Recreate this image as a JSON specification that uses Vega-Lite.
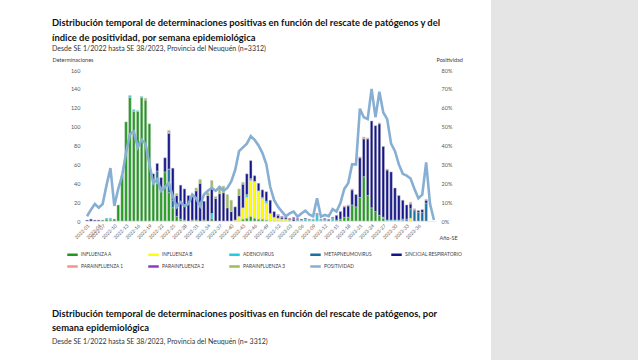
{
  "$schema": "https://vega.github.io/schema/vega-lite/v6.json",
  "padding": {"left": 52, "top": 0, "right": 0, "bottom": 0},
  "background": "white",
  "config": {"font": "Lato", "view": {"stroke": null}},
  "spacing": 28,
  "hconcat": [
    {
      "spacing": 67,
      "vconcat": [
        {
          "width": 351,
          "height": 151,
          "title": {
            "text": ["Distribución temporal de determinaciones positivas en función del rescate de patógenos y del", "índice de positividad, por semana epidemiológica"],
            "subtitle": "Desde SE 1/2022 hasta SE 38/2023, Provincia del Neuquén (n=3312)",
            "anchor": "start", "frame": "group", "dx": -33,
            "fontSize": 9.4, "fontWeight": "bold", "lineHeight": 14.5, "color": "#111111",
            "subtitleFontSize": 7.0, "subtitleColor": "#333333", "subtitlePadding": 2, "offset": 4
          },
          "data": {"values": [
            {"s":"2022-01","SINCICIAL RESPIRATORIO":1,"p":2.5},
            {"s":"2022-02","SINCICIAL RESPIRATORIO":2,"p":6},
            {"s":"2022-03","SINCICIAL RESPIRATORIO":1,"p":9},
            {"s":"2022-04","SINCICIAL RESPIRATORIO":1,"p":7},
            {"s":"2022-05","p":9},
            {"s":"2022-06","p":0.5},
            {"s":"2022-07","INFLUENZA A":1,"p":9},
            {"s":"2022-08","INFLUENZA A":2,"ADENOVIRUS":1,"p":19},
            {"s":"2022-09","INFLUENZA A":1,"ADENOVIRUS":2,"p":28},
            {"s":"2022-10","INFLUENZA A":2,"p":8},
            {"s":"2022-11","INFLUENZA A":17,"p":17},
            {"s":"2022-12","INFLUENZA A":48,"p":24},
            {"s":"2022-13","INFLUENZA A":105,"p":36},
            {"s":"2022-14","INFLUENZA A":131,"ADENOVIRUS":2,"p":46},
            {"s":"2022-15","INFLUENZA A":116,"ADENOVIRUS":2,"p":47.5},
            {"s":"2022-16","INFLUENZA A":116,"ADENOVIRUS":1,"p":39},
            {"s":"2022-17","INFLUENZA A":131,"ADENOVIRUS":1,"p":43},
            {"s":"2022-18","INFLUENZA A":128,"PARAINFLUENZA 3":2,"p":41},
            {"s":"2022-19","INFLUENZA A":103,"p":30},
            {"s":"2022-20","INFLUENZA A":44,"SINCICIAL RESPIRATORIO":6,"p":20},
            {"s":"2022-21","INFLUENZA A":40,"ADENOVIRUS":3,"METAPNEUMOVIRUS":10,"SINCICIAL RESPIRATORIO":8,"p":22},
            {"s":"2022-22","INFLUENZA A":36,"SINCICIAL RESPIRATORIO":10,"p":16},
            {"s":"2022-23","INFLUENZA A":52,"SINCICIAL RESPIRATORIO":15,"p":18},
            {"s":"2022-24","INFLUENZA A":30,"METAPNEUMOVIRUS":25,"SINCICIAL RESPIRATORIO":38,"PARAINFLUENZA 1":1,"PARAINFLUENZA 3":2,"p":20},
            {"s":"2022-25","INFLUENZA A":14,"METAPNEUMOVIRUS":8,"SINCICIAL RESPIRATORIO":34,"p":13},
            {"s":"2022-26","INFLUENZA A":5,"SINCICIAL RESPIRATORIO":22,"PARAINFLUENZA 3":2,"p":7.5},
            {"s":"2022-27","INFLUENZA A":2,"SINCICIAL RESPIRATORIO":36,"p":10},
            {"s":"2022-28","INFLUENZA A":1,"SINCICIAL RESPIRATORIO":33,"p":8},
            {"s":"2022-29","SINCICIAL RESPIRATORIO":27,"p":9},
            {"s":"2022-30","INFLUENZA A":1,"SINCICIAL RESPIRATORIO":26,"PARAINFLUENZA 3":1,"p":14},
            {"s":"2022-31","INFLUENZA A":1,"SINCICIAL RESPIRATORIO":31,"PARAINFLUENZA 3":3,"p":12},
            {"s":"2022-32","SINCICIAL RESPIRATORIO":40,"PARAINFLUENZA 3":4,"p":8},
            {"s":"2022-33","INFLUENZA A":1,"SINCICIAL RESPIRATORIO":20,"p":14},
            {"s":"2022-34","SINCICIAL RESPIRATORIO":27,"PARAINFLUENZA 3":3,"p":16},
            {"s":"2022-35","INFLUENZA A":3,"ADENOVIRUS":5,"SINCICIAL RESPIRATORIO":28,"PARAINFLUENZA 3":7,"p":17.5},
            {"s":"2022-36","SINCICIAL RESPIRATORIO":24,"PARAINFLUENZA 3":2,"p":16},
            {"s":"2022-37","SINCICIAL RESPIRATORIO":29,"PARAINFLUENZA 3":8,"p":18},
            {"s":"2022-38","SINCICIAL RESPIRATORIO":30,"PARAINFLUENZA 3":7,"p":16},
            {"s":"2022-39","SINCICIAL RESPIRATORIO":14,"PARAINFLUENZA 3":14,"p":17.5},
            {"s":"2022-40","SINCICIAL RESPIRATORIO":10,"PARAINFLUENZA 3":12,"p":21},
            {"s":"2022-41","INFLUENZA B":1,"SINCICIAL RESPIRATORIO":14,"p":27},
            {"s":"2022-42","INFLUENZA B":5,"SINCICIAL RESPIRATORIO":22,"PARAINFLUENZA 3":7,"p":37},
            {"s":"2022-43","INFLUENZA A":2,"INFLUENZA B":12,"SINCICIAL RESPIRATORIO":25,"PARAINFLUENZA 3":2,"p":39},
            {"s":"2022-44","INFLUENZA A":3,"INFLUENZA B":22,"ADENOVIRUS":3,"SINCICIAL RESPIRATORIO":22,"p":41},
            {"s":"2022-45","INFLUENZA A":5,"INFLUENZA B":38,"ADENOVIRUS":2,"SINCICIAL RESPIRATORIO":19,"p":45},
            {"s":"2022-46","INFLUENZA A":3,"INFLUENZA B":39,"SINCICIAL RESPIRATORIO":6,"p":43},
            {"s":"2022-47","INFLUENZA A":2,"INFLUENZA B":30,"SINCICIAL RESPIRATORIO":8,"p":40},
            {"s":"2022-48","INFLUENZA A":2,"INFLUENZA B":22,"ADENOVIRUS":1,"SINCICIAL RESPIRATORIO":8,"p":36},
            {"s":"2022-49","INFLUENZA A":1,"INFLUENZA B":18,"ADENOVIRUS":2,"SINCICIAL RESPIRATORIO":10,"p":30},
            {"s":"2022-50","INFLUENZA B":8,"SINCICIAL RESPIRATORIO":14,"p":18},
            {"s":"2022-51","INFLUENZA B":4,"SINCICIAL RESPIRATORIO":6,"p":11},
            {"s":"2022-52","INFLUENZA B":3,"SINCICIAL RESPIRATORIO":3,"PARAINFLUENZA 2":1,"p":7.5},
            {"s":"2023-01","INFLUENZA B":2,"SINCICIAL RESPIRATORIO":2,"PARAINFLUENZA 2":1,"p":5},
            {"s":"2023-02","INFLUENZA B":2,"SINCICIAL RESPIRATORIO":2,"p":2.5},
            {"s":"2023-03","INFLUENZA B":1,"SINCICIAL RESPIRATORIO":1,"PARAINFLUENZA 2":1,"p":4},
            {"s":"2023-04","SINCICIAL RESPIRATORIO":2,"PARAINFLUENZA 2":2,"p":5},
            {"s":"2023-05","ADENOVIRUS":1,"SINCICIAL RESPIRATORIO":1,"PARAINFLUENZA 2":1,"p":2.3},
            {"s":"2023-06","ADENOVIRUS":1,"SINCICIAL RESPIRATORIO":1,"p":4},
            {"s":"2023-07","ADENOVIRUS":2,"SINCICIAL RESPIRATORIO":1,"p":5.5},
            {"s":"2023-08","ADENOVIRUS":1,"PARAINFLUENZA 2":1,"p":3.5},
            {"s":"2023-09","ADENOVIRUS":2,"p":2.5},
            {"s":"2023-10","ADENOVIRUS":7,"SINCICIAL RESPIRATORIO":1,"p":12},
            {"s":"2023-11","ADENOVIRUS":1,"PARAINFLUENZA 2":1,"p":2.3},
            {"s":"2023-12","ADENOVIRUS":1,"SINCICIAL RESPIRATORIO":1,"PARAINFLUENZA 2":1,"p":3.2},
            {"s":"2023-13","SINCICIAL RESPIRATORIO":1,"PARAINFLUENZA 2":1,"p":2.5},
            {"s":"2023-14","ADENOVIRUS":3,"SINCICIAL RESPIRATORIO":1,"p":6.3},
            {"s":"2023-15","INFLUENZA A":1,"SINCICIAL RESPIRATORIO":5,"p":5},
            {"s":"2023-16","INFLUENZA A":2,"SINCICIAL RESPIRATORIO":8,"p":9.5},
            {"s":"2023-17","INFLUENZA A":4,"SINCICIAL RESPIRATORIO":11,"PARAINFLUENZA 1":1,"p":17},
            {"s":"2023-18","INFLUENZA A":4,"SINCICIAL RESPIRATORIO":12,"PARAINFLUENZA 1":1,"p":20},
            {"s":"2023-19","INFLUENZA A":17,"SINCICIAL RESPIRATORIO":16,"PARAINFLUENZA 1":1,"p":30},
            {"s":"2023-20","INFLUENZA A":15,"SINCICIAL RESPIRATORIO":13,"p":30},
            {"s":"2023-21","INFLUENZA A":25,"SINCICIAL RESPIRATORIO":42,"PARAINFLUENZA 1":1,"p":59.5},
            {"s":"2023-22","INFLUENZA A":47,"SINCICIAL RESPIRATORIO":40,"PARAINFLUENZA 1":2,"p":55},
            {"s":"2023-23","INFLUENZA A":27,"SINCICIAL RESPIRATORIO":60,"PARAINFLUENZA 1":1,"p":54},
            {"s":"2023-24","INFLUENZA A":14,"SINCICIAL RESPIRATORIO":92,"p":70},
            {"s":"2023-25","INFLUENZA A":10,"SINCICIAL RESPIRATORIO":91,"p":55},
            {"s":"2023-26","INFLUENZA A":6,"SINCICIAL RESPIRATORIO":97,"PARAINFLUENZA 1":1,"p":68.5},
            {"s":"2023-27","INFLUENZA A":3,"ADENOVIRUS":1,"SINCICIAL RESPIRATORIO":75,"p":57.5},
            {"s":"2023-28","ADENOVIRUS":1,"SINCICIAL RESPIRATORIO":53,"PARAINFLUENZA 1":1,"p":54},
            {"s":"2023-29","ADENOVIRUS":1,"SINCICIAL RESPIRATORIO":51,"p":41},
            {"s":"2023-30","ADENOVIRUS":1,"SINCICIAL RESPIRATORIO":34,"p":37},
            {"s":"2023-31","ADENOVIRUS":1,"SINCICIAL RESPIRATORIO":26,"p":30},
            {"s":"2023-32","ADENOVIRUS":1,"METAPNEUMOVIRUS":1,"SINCICIAL RESPIRATORIO":20,"p":25},
            {"s":"2023-33","METAPNEUMOVIRUS":2,"SINCICIAL RESPIRATORIO":15,"p":24},
            {"s":"2023-34","INFLUENZA B":3,"METAPNEUMOVIRUS":10,"SINCICIAL RESPIRATORIO":5,"PARAINFLUENZA 1":2,"p":22.5},
            {"s":"2023-35","METAPNEUMOVIRUS":11,"SINCICIAL RESPIRATORIO":1,"PARAINFLUENZA 1":1,"p":17},
            {"s":"2023-36","METAPNEUMOVIRUS":9,"SINCICIAL RESPIRATORIO":2,"p":12},
            {"s":"2023-37","METAPNEUMOVIRUS":9,"SINCICIAL RESPIRATORIO":3,"p":14},
            {"s":"2023-38","METAPNEUMOVIRUS":19,"SINCICIAL RESPIRATORIO":3,"PARAINFLUENZA 1":1,"p":31}
          ]},
          "layer": [
            {
              "transform": [
                {"fold": ["INFLUENZA A","INFLUENZA B","ADENOVIRUS","METAPNEUMOVIRUS","SINCICIAL RESPIRATORIO","PARAINFLUENZA 1","PARAINFLUENZA 2","PARAINFLUENZA 3"], "as": ["serie","n"]},
                {"filter": "datum.n > 0"},
                {"calculate": "indexof(['INFLUENZA A','INFLUENZA B','ADENOVIRUS','METAPNEUMOVIRUS','SINCICIAL RESPIRATORIO','PARAINFLUENZA 1','PARAINFLUENZA 2','PARAINFLUENZA 3'], datum.serie)", "as": "ord"}
              ],
              "mark": {"type": "bar", "stroke": "#c8c8c8", "strokeWidth": 0.5},
              "encoding": {
                "x": {"field": "s", "type": "ordinal", "sort": null,
                  "scale": {"paddingInner": 0.35, "paddingOuter": 0.2},
                  "axis": {"title": "Año-SE", "titleX": 354, "titleY": 18, "titleAlign": "left", "titleBaseline": "alphabetic", "titleFontSize": 5.5, "titleFontWeight": "normal", "titleColor": "#404040",
                    "values": ["2022-01","2022-04","2022-07","2022-10","2022-13","2022-16","2022-19","2022-22","2022-25","2022-28","2022-31","2022-34","2022-37","2022-40","2022-43","2022-46","2022-49","2022-52","2023-03","2023-06","2023-09","2023-12","2023-15","2023-18","2023-21","2023-24","2023-27","2023-30","2023-33","2023-36"],
                    "labelAngle": -45, "labelFontSize": 4.8, "labelColor": "#595959", "ticks": false, "domain": true, "domainColor": "#d9d9d9", "domainWidth": 0.5, "labelPadding": 2}},
                "y": {"field": "n", "type": "quantitative", "stack": "zero",
                  "scale": {"domain": [0, 160]},
                  "axis": {"title": "Determinaciones", "titleAngle": 0, "titleX": -33, "titleY": -9, "titleAlign": "left", "titleBaseline": "alphabetic", "titleFontSize": 5.5, "titleFontWeight": "normal", "titleColor": "#404040",
                    "values": [0,20,40,60,80,100,120,140,160], "labelFontSize": 5.5, "labelColor": "#595959", "ticks": false, "domain": false, "grid": false, "labelPadding": 5}},
                "order": {"field": "ord", "type": "quantitative", "sort": "ascending"},
                "color": {"field": "serie", "type": "nominal",
                  "scale": {"domain": ["INFLUENZA A","INFLUENZA B","ADENOVIRUS","METAPNEUMOVIRUS","SINCICIAL RESPIRATORIO","PARAINFLUENZA 1","PARAINFLUENZA 2","PARAINFLUENZA 3","POSITIVIDAD"],
                    "range": ["#1e9b1e","#ffff00","#22cde0","#1b6fa1","#14148c","#f4938d","#8a3cc4","#9cbd57","#86afd3"]},
                  "legend": {"orient": "none", "legendX": -19, "legendY": 178, "direction": "horizontal", "columns": 5, "title": null,
                    "symbolType": "stroke", "symbolSize": 110, "symbolStrokeWidth": 2.5, "labelFontSize": 4.8, "labelColor": "#404040",
                    "columnPadding": 5, "rowPadding": -3, "gridAlign": "all", "labelOffset": 2,
                    "encode": {"symbols": {"update": {"stroke": {"scale": "color", "field": "value"}, "strokeWidth": {"value": 2.5}}}}}}
              }
            },
            {
              "mark": {"type": "line", "strokeWidth": 2.6},
              "encoding": {
                "x": {"field": "s", "type": "ordinal", "sort": null},
                "y": {"field": "p", "type": "quantitative",
                  "scale": {"domain": [0, 80]},
                  "axis": {"orient": "right", "title": "Positividad", "titleAngle": 0, "titleX": 0, "titleY": -9, "titleAlign": "left", "titleBaseline": "alphabetic", "titleFontSize": 5.5, "titleFontWeight": "normal", "titleColor": "#404040",
                    "values": [0,10,20,30,40,50,60,70,80], "labelExpr": "datum.value + '%'", "labelFontSize": 5.5, "labelColor": "#595959", "ticks": false, "domain": false, "grid": false, "labelPadding": 5}},
                "color": {"datum": "POSITIVIDAD"}
              }
            }
          ],
          "resolve": {"scale": {"y": "independent"}}
        },
        {
          "width": 351,
          "height": 2,
          "title": {
            "text": ["Distribución temporal de determinaciones positivas en función del rescate de patógenos, por", "semana epidemiológica"],
            "subtitle": "Desde SE 1/2022 hasta SE 38/2023, Provincia del Neuquén (n= 3312)",
            "anchor": "start", "frame": "group", "dx": -33,
            "fontSize": 9.4, "fontWeight": "bold", "lineHeight": 14, "color": "#111111",
            "subtitleFontSize": 7.0, "subtitleColor": "#333333", "subtitlePadding": 5, "offset": 4
          },
          "data": {"values": []},
          "mark": "point"
        }
      ]
    },
    {
      "width": 7,
      "height": 220,
      "view": {"fill": "#e5e5e5", "stroke": "#e5e5e5", "strokeWidth": 140},
      "data": {"values": []},
      "mark": "point"
    }
  ]
}
